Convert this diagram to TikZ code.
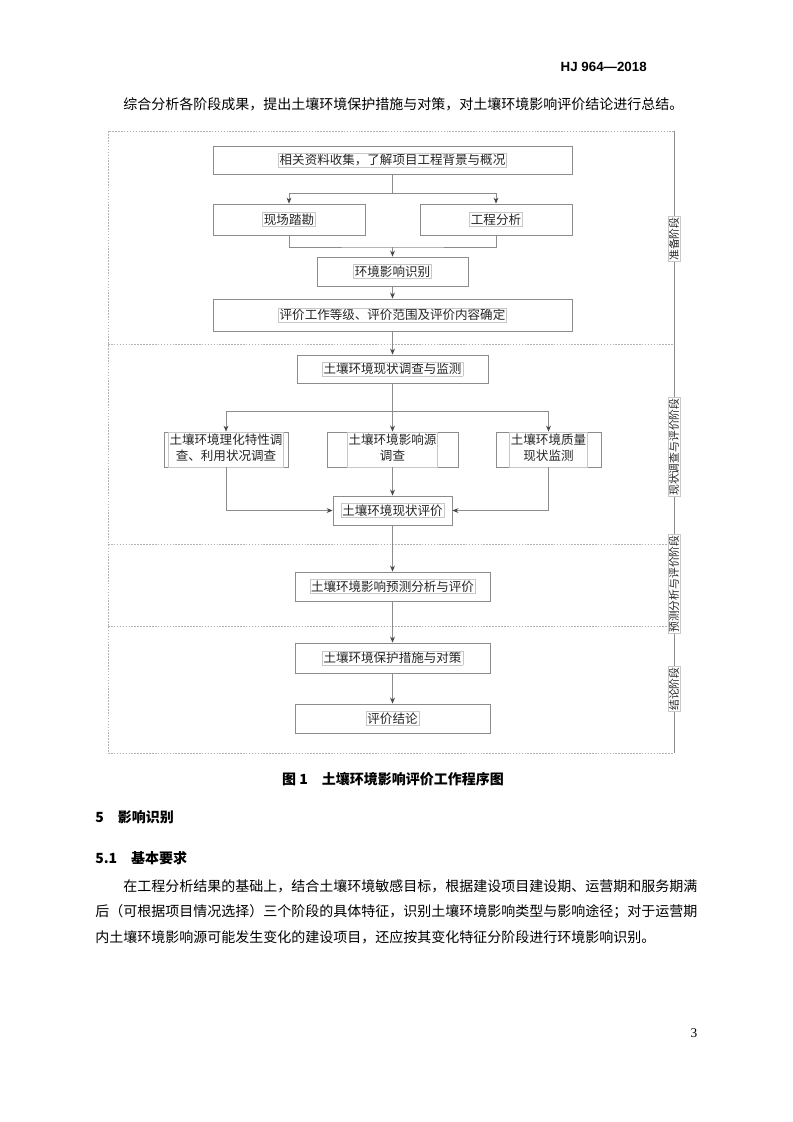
\documentclass[tikz,border=0pt]{standalone}
\usepackage{fontspec}
\setmainfont{Noto Sans CJK SC}
\newfontfamily\hdrfont{Liberation Sans}
\newfontfamily\numfont{Liberation Serif}
\usetikzlibrary{arrows.meta}
\definecolor{bgray}{HTML}{8C8C8C}
\definecolor{dgray}{HTML}{B4B4B4}
\definecolor{tgray}{HTML}{C8C8C8}
\definecolor{ink}{HTML}{262626}
\newcommand\tl[1]{{\setlength\fboxsep{0.8pt}\setlength\fboxrule{0.3pt}\fcolorbox{tgray}{white}{#1}}}
\newcommand\twol[2]{\begin{tabular}{@{}c@{}}#1\\#2\end{tabular}}
\newcommand\bx[6]{\node[box,minimum width={(#4-#2)*0.75pt},minimum height={(#5-#3)*0.75pt}] (#1) at ({(#2+#4)/2},{(#3+#5)/2}) {\tl{#6}};}
\begin{document}
\begin{tikzpicture}[x=0.75pt,y=-0.75pt,
  box/.style={draw=bgray,line width=0.6pt,inner sep=0pt,fill=white,text=ink,font=\fontsize{9.4}{12}\selectfont},
  ln/.style={draw=bgray,line width=0.6pt},
  arr/.style={ln,-{Stealth[length=4.5pt,width=3.6pt,color=ink!85]}},
  sep/.style={draw=dgray,line width=0.5pt,dash pattern=on 1.2pt off 1pt},
  phase/.style={draw=tgray,line width=0.3pt,fill=white,rotate=90,inner sep=0.8pt,text=ink,font=\fontsize{8.1}{9}\selectfont},
  txt/.style={inner sep=0pt,text=black,font=\fontsize{10.5}{12}\selectfont}]
\useasboundingbox[fill=white] (0,0) rectangle (793,1122);

% page text
\node[txt,anchor=east,font=\hdrfont\bfseries\fontsize{10}{12}\selectfont] (hdr) at (647,67) {HJ 964—2018};
\node[txt,anchor=west] (intro) at (123,104) {综合分析各阶段成果，提出土壤环境保护措施与对策，对土壤环境影响评价结论进行总结。};

% frame
\coordinate (ftl) at (108,131);
\coordinate (ftr) at (674,131);
\coordinate (fbl) at (108,753);
\coordinate (fbr) at (674,753);
\draw[sep] (ftr) -- (ftl) -- (fbl) -- (fbr);
\draw[sep] (108,344) -- (674,344);
\draw[sep] (108,544) -- (674,544);
\draw[sep] (108,626) -- (674,626);
\draw[draw=bgray,line width=0.7pt] (ftr) -- (fbr);

% boxes
\bx{b1}{213}{146}{572}{174}{相关资料收集，了解项目工程背景与概况}
\bx{b2}{213}{204}{365}{235}{现场踏勘}
\bx{b3}{420}{204}{572}{235}{工程分析}
\bx{b4}{317}{257}{468}{286}{环境影响识别}
\bx{b5}{213}{299}{572}{331}{评价工作等级、评价范围及评价内容确定}
\bx{b6}{297}{355}{488}{383}{土壤环境现状调查与监测}
\bx{b7}{164}{432}{288}{467}{\twol{土壤环境理化特性调}{查、利用状况调查}}
\bx{b8}{327}{432}{458}{467}{\twol{土壤环境影响源}{调查}}
\bx{b9}{496}{432}{601}{467}{\twol{土壤环境质量}{现状监测}}
\bx{b10}{333}{496}{452}{525}{土壤环境现状评价}
\bx{b11}{295}{572}{490}{601}{土壤环境影响预测分析与评价}
\bx{b12}{295}{643}{490}{673}{土壤环境保护措施与对策}
\bx{b13}{295}{704}{490}{733}{评价结论}

% connectors
\coordinate (j1) at (392.5,193);
\draw[ln] (b1.south) -- (j1);
\draw[arr] (j1) -| (b2.north);
\draw[arr] (j1) -| (b3.north);
\coordinate (j2) at (392.5,247);
\draw[ln] (b2.south) |- (j2) -| (b3.south);
\draw[arr] (j2) -- (b4.north);
\draw[arr] (b4.south) -- (b5.north);
\draw[arr] (b5.south) -- (b6.north);
\coordinate (j3) at (392.5,411);
\draw[ln] (b6.south) -- (j3);
\draw[arr] (j3) -| (b7.north);
\draw[arr] (j3) -- (b8.north);
\draw[arr] (j3) -| (b9.north);
\draw[arr] (b7.south) |- (b10.west);
\draw[arr] (b9.south) |- (b10.east);
\draw[arr] (b8.south) -- (b10.north);
\draw[arr] (b10.south) -- (b11.north);
\draw[arr] (b11.south) -- (b12.north);
\draw[arr] (b12.south) -- (b13.north);

% phase labels
\node[phase] (p1) at (674,239) {准备阶段};
\node[phase] (p2) at (674,447) {现状调查与评价阶段};
\node[phase] (p3) at (674,584) {预测分析与评价阶段};
\node[phase] (p4) at (674,689) {结论阶段};

% caption and following text
\node[txt,font=\bfseries\fontsize{10.5}{12}\selectfont] (cap) at (393,779) {图 1\hspace{1em}土壤环境影响评价工作程序图};
\node[txt,anchor=west,font=\bfseries\fontsize{10.5}{12}\selectfont] (s5) at (95,817) {5\hspace{1em}影响识别};
\node[txt,anchor=west,font=\bfseries\fontsize{10.5}{12}\selectfont] (s51) at (95,858) {5.1\hspace{1em}基本要求};
\node[txt,anchor=west] (l1) at (123,886) {在工程分析结果的基础上，结合土壤环境敏感目标，根据建设项目建设期、运营期和服务期满};
\node[txt,anchor=west] (l2) at (95,912) {后（可根据项目情况选择）三个阶段的具体特征，识别土壤环境影响类型与影响途径；对于运营期};
\node[txt,anchor=west] (l3) at (95,937) {内土壤环境影响源可能发生变化的建设项目，还应按其变化特征分阶段进行环境影响识别。};
\node[txt,font=\numfont\fontsize{10}{12}\selectfont] (pg) at (694,1033) {3};
\end{tikzpicture}
\end{document}
